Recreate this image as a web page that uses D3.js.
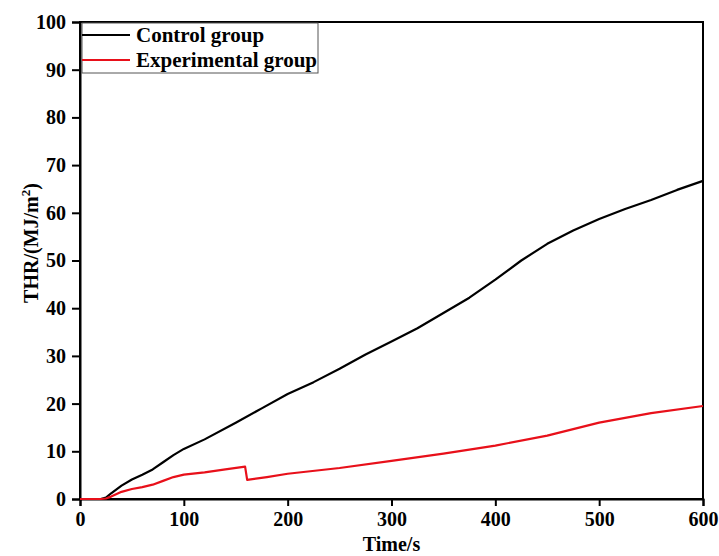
<!doctype html>
<html lang="en">
<head>
  <meta charset="utf-8">
  <title>THR curves</title>
  <style>
    body { margin: 0; background: #fff; }
    text { font-family: "Liberation Serif", "Times New Roman", serif; font-weight: bold; }
  </style>
</head>
<body>
<div id="mychart"></div>
<script src="https://d3js.org/d3.v7.min.js"></script>
<script>
var width = 719;
var height = 556;

// data (time in s, THR in MJ/m2)
var controlTime = [0, 20, 25, 30, 40, 50, 60, 70, 80, 90, 100, 120, 150, 175, 200, 225, 250, 275, 300, 325, 350, 375, 400, 425, 450, 475, 500, 525, 550, 575, 600];
var controlTHR  = [0, 0, 0.3, 1.2, 2.8, 4.1, 5.1, 6.2, 7.7, 9.2, 10.5, 12.5, 16, 19, 22, 24.5, 27.3, 30.3, 33, 35.8, 39, 42.2, 46, 50, 53.5, 56.3, 58.7, 60.8, 62.7, 64.8, 66.7];
var expTime = [0, 20, 25, 30, 40, 50, 60, 70, 80, 90, 100, 120, 140, 159, 161, 180, 200, 250, 300, 350, 400, 450, 500, 550, 600];
var expTHR  = [0, 0, 0.1, 0.5, 1.5, 2.1, 2.5, 3, 3.8, 4.6, 5.1, 5.6, 6.2, 6.8, 4, 4.6, 5.3, 6.5, 8, 9.5, 11.2, 13.3, 16, 18, 19.5];
var xTicks = [0, 100, 200, 300, 400, 500, 600];
var yTicks = [0, 10, 20, 30, 40, 50, 60, 70, 80, 90, 100];
var seriesNames = ["Control group", "Experimental group"];
var seriesColors = ["#000000", "#e8101a"];

var svg = d3.select("#mychart").append("svg")
  .attr("width", width)
  .attr("height", height);

var x = d3.scaleLinear().domain([0, 600]).range([80, 703]);
var y = d3.scaleLinear().domain([0, 100]).range([499, 22]);

// frame
svg.append("rect")
  .attr("x", x(0)).attr("y", y(100))
  .attr("width", x(600) - x(0)).attr("height", y(0) - y(100))
  .attr("fill", "none").attr("stroke", "#000").attr("stroke-width", 2);

var xAxis = svg.append("g")
  .attr("transform", "translate(0," + y(0) + ")")
  .call(d3.axisBottom(x).tickValues(xTicks).tickSize(7).tickPadding(6).tickFormat(d3.format("d")));
var yAxis = svg.append("g")
  .attr("transform", "translate(" + x(0) + ",0)")
  .call(d3.axisLeft(y).tickValues(yTicks).tickSize(8).tickPadding(6).tickFormat(d3.format("d")));

[xAxis, yAxis].forEach(function(g) {
  g.select(".domain").attr("stroke-width", 2);
  g.selectAll(".tick line").attr("stroke-width", 2);
  g.selectAll(".tick text").attr("font-size", 20).attr("font-family", "Liberation Serif").attr("font-weight", "bold").attr("fill", "#000");
});

svg.append("text")
  .attr("x", (x(0) + x(600)) / 2).attr("y", 551)
  .attr("text-anchor", "middle").attr("font-size", 20)
  .text("Time/s");

var yt = svg.append("text")
  .attr("transform", "translate(38,243) rotate(-90)")
  .attr("text-anchor", "middle").attr("font-size", 20);
yt.append("tspan").text("THR/(MJ/m");
yt.append("tspan").attr("font-size", 13).attr("dy", -8).text("2");
yt.append("tspan").attr("dy", 8).text(")");

var line = d3.line()
  .x(function(d) { return x(d[0]); })
  .y(function(d) { return y(d[1]); });

var series = [
  d3.zip(controlTime, controlTHR),
  d3.zip(expTime, expTHR)
];

svg.selectAll("path.curve").data(series)
  .enter()
  .append("path")
  .attr("class", "curve")
  .attr("d", line)
  .attr("fill", "none")
  .attr("stroke", function(d, i) { return seriesColors[i]; })
  .attr("stroke-width", 2.2)
  .attr("stroke-linejoin", "round");

// legend
svg.append("rect")
  .attr("x", 82).attr("y", 23).attr("width", 236).attr("height", 50)
  .attr("fill", "#fff").attr("stroke", "#555").attr("stroke-width", 1);

var leg = svg.selectAll("g.leg").data(seriesNames)
  .enter()
  .append("g")
  .attr("class", "leg")
  .attr("transform", function(d, i) { return "translate(0," + (35 + i * 25) + ")"; });
leg.append("line")
  .attr("x1", 82).attr("x2", 130)
  .attr("stroke", function(d, i) { return seriesColors[i]; })
  .attr("stroke-width", 2);
leg.append("text")
  .attr("x", 136).attr("y", 7)
  .attr("font-size", 21)
  .text(function(d) { return d; });
</script>
</body>
</html>
